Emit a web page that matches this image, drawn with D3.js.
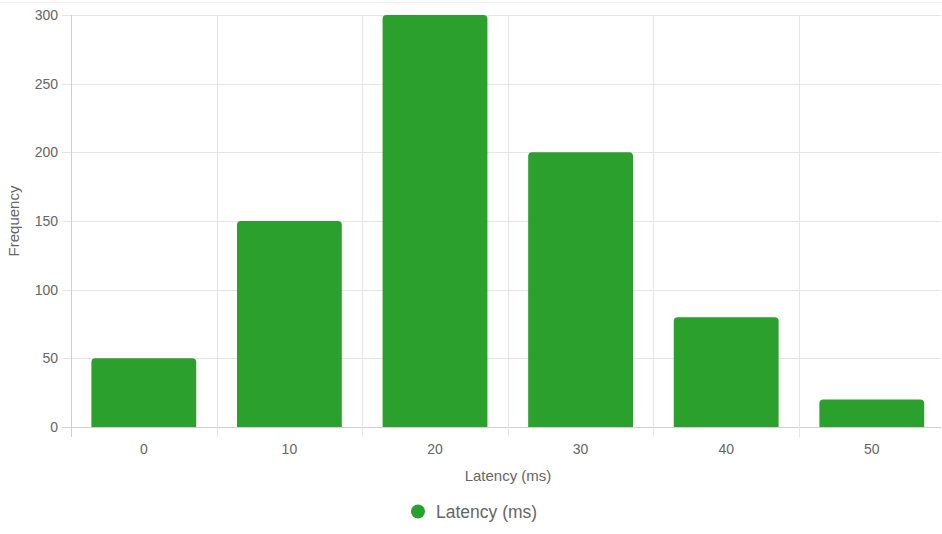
<!DOCTYPE html>
<html><head><meta charset="utf-8">
<script src="https://cdn.jsdelivr.net/npm/d3@7/dist/d3.min.js"></script>
<style>body{margin:0;background:#fff;font-family:"Helvetica Neue",Helvetica,Arial,"Liberation Sans",sans-serif;}</style>
</head><body><svg id="c" width="942" height="534"></svg>
<script>
const categories = ["0","10","20","30","40","50"];
const values = [50,150,300,200,80,20];
const yTicks = [0,50,100,150,200,250,300];
const seriesName = "Latency (ms)";
const xTitle = "Latency (ms)";
const yTitle = "Frequency";

const svg = d3.select("#c");
const L=71, R=944.6, T=15, B=427;
const x = d3.scaleBand().domain(categories).range([L,R]).paddingInner(0).paddingOuter(0);
const y = d3.scaleLinear().domain([0,300]).range([B,T]);
const green = "#2ca02c", grid="#e5e5e5", txt="#666";

svg.append("line").attr("x1",0).attr("x2",942).attr("y1",2.5).attr("y2",2.5).attr("stroke","#f2f2f2");

// horizontal grid
svg.append("g").selectAll("line").data(yTicks).join("line")
  .attr("x1",L-9).attr("x2",941).attr("y1",d=>Math.round(y(d))+0.5).attr("y2",d=>Math.round(y(d))+0.5)
  .attr("stroke",d=>d===0?"#d0d0d0":grid);
// vertical grid
const vx = categories.map(c=>x(c));
svg.append("g").selectAll("line").data(vx).join("line")
  .attr("x1",d=>Math.round(d)+0.5).attr("x2",d=>Math.round(d)+0.5).attr("y1",T).attr("y2",B+10)
  .attr("stroke",(d,i)=>i===0?"#d0d0d0":grid);

// y labels
svg.append("g").selectAll("text").data(yTicks).join("text")
  .attr("x",L-13).attr("y",d=>y(d)).attr("dy","0.35em").attr("text-anchor","end")
  .attr("fill",txt).attr("font-size",14).text(d=>d);
// x labels
svg.append("g").selectAll("text").data(categories).join("text")
  .attr("x",d=>x(d)+x.bandwidth()/2).attr("y",449).attr("dy","0.35em").attr("text-anchor","middle")
  .attr("fill",txt).attr("font-size",14).text(d=>d);

// bars
const bw = x.bandwidth()*0.72, r=4;
svg.append("g").selectAll("path").data(categories).join("path")
  .attr("fill",green)
  .attr("d",(c,i)=>{
    const x0=x(c)+(x.bandwidth()-bw)/2, x1=x0+bw, y0=y(values[i]), y1=y(0);
    return `M${x0},${y1}V${y0+r}Q${x0},${y0} ${x0+r},${y0}H${x1-r}Q${x1},${y0} ${x1},${y0+r}V${y1}Z`;
  });

// axis titles
svg.append("text").attr("x",508).attr("y",476).attr("dy","0.35em").attr("text-anchor","middle")
  .attr("fill",txt).attr("font-size",15).text(xTitle);
svg.append("text").attr("transform",`translate(14,${(T+B)/2}) rotate(-90)`).attr("dy","0.35em")
  .attr("text-anchor","middle").attr("fill",txt).attr("font-size",15).text(yTitle);

// legend
svg.append("circle").attr("cx",418).attr("cy",511.5).attr("r",7).attr("fill",green);
svg.append("text").attr("x",436).attr("y",511.5).attr("dy","0.35em").attr("fill",txt)
  .attr("font-size",17.5).text(seriesName);
</script></body></html>
